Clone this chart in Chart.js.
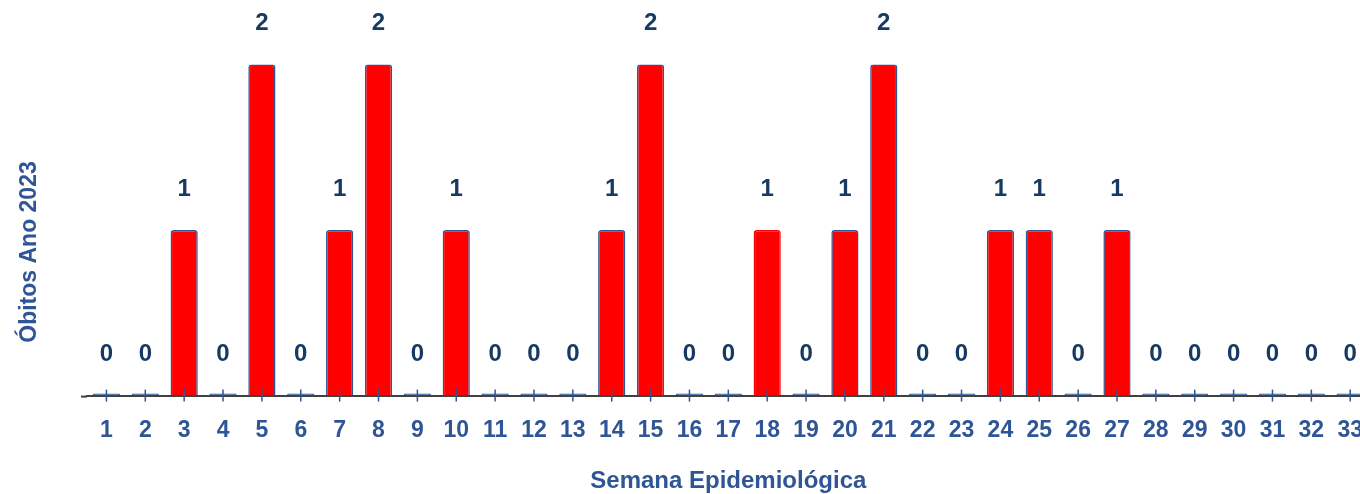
<!DOCTYPE html>
<html>
<head>
<meta charset="utf-8">
<script src="https://cdn.jsdelivr.net/npm/chart.js@4/dist/chart.umd.min.js"></script>
<style>
  html, body { margin: 0; padding: 0; background: #fff; overflow: hidden; }
  /* a última semana fica parcialmente cortada, como no original */
  #wrap { width: 1360px; height: 494px; overflow: hidden; }
</style>
</head>
<body>
<div id="wrap"><canvas id="obitosChart" width="1384" height="494"></canvas></div>
<script>
// Semanas epidemiológicas e óbitos
const semanas = ['1','2','3','4','5','6','7','8','9','10','11','12','13','14','15','16','17',
                 '18','19','20','21','22','23','24','25','26','27','28','29','30','31','32','33'];
const obitos = [0,0,1,0,2,0,1,2,0,1,0,0,0,1,2,0,0,1,0,1,2,0,0,1,1,0,1,0,0,0,0,0,0];
const yMax = 2.39;

const vermelho = '#ff0000';
const azul = '#2f5597';
const azulEscuro = '#163a63';
const fonte = "'Liberation Sans', Arial, sans-serif";

// Título do eixo Y, rótulos de valor e marcas do eixo X
const rotulosPlugin = {
    id: 'rotulos',
    afterDatasetsDraw(chart) {
        const ctx = chart.ctx;
        const xScale = chart.scales.x;
        const yScale = chart.scales.y;
        const area = chart.chartArea;

        ctx.save();
        // pequeno prolongamento do eixo à esquerda
        ctx.strokeStyle = '#404040';
        ctx.lineWidth = 2;
        ctx.beginPath();
        ctx.moveTo(area.left - 6, area.bottom + 1);
        ctx.lineTo(area.left, area.bottom + 1);
        ctx.stroke();

        ctx.strokeStyle = azul;
        ctx.lineWidth = 1.5;
        semanas.forEach((s, i) => {
            const x = xScale.getPixelForValue(i);
            ctx.beginPath();
            ctx.moveTo(x, area.bottom - 6);
            ctx.lineTo(x, area.bottom + 6);
            ctx.stroke();
        });

        ctx.fillStyle = azulEscuro;
        ctx.font = 'bold 24px ' + fonte;
        ctx.textAlign = 'center';
        ctx.textBaseline = 'middle';
        chart.getDatasetMeta(0).data.forEach((bar, i) => {
            const topo = yScale.getPixelForValue(obitos[i]);
            ctx.fillText(String(obitos[i]), bar.x, topo - 41);
        });

        ctx.fillStyle = azul;
        ctx.font = 'bold 23px ' + fonte;
        ctx.translate(30, 252);
        ctx.rotate(-Math.PI / 2);
        ctx.fillText('Óbitos Ano 2023', 0, 0);
        ctx.restore();
    }
};

const ctx = document.getElementById('obitosChart').getContext('2d');
const obitosChart = new Chart(ctx, {
    type: 'bar',
    data: {
        labels: semanas,
        datasets: [{
            data: obitos,
            backgroundColor: c => c.raw === 0 ? azul : vermelho,
            borderColor: c => c.dataIndex === 17 ? vermelho : azul,
            borderWidth: 1.5,
            borderRadius: 3,
            borderSkipped: 'bottom',
            minBarLength: 2,
            barPercentage: 0.7,
            categoryPercentage: 1
        }]
    },
    options: {
        responsive: false,
        animation: false,
        layout: { padding: { left: 87, right: 0, top: 0, bottom: -2 } },
        plugins: {
            legend: { display: false },
            tooltip: { enabled: false }
        },
        scales: {
            x: {
                grid: { display: false, drawTicks: false },
                border: { display: true, color: '#404040', width: 2 },
                ticks: {
                    color: azul,
                    font: { family: fonte, size: 23, weight: 'bold' },
                    padding: 21,
                    maxRotation: 0,
                    autoSkip: false
                },
                title: {
                    display: true,
                    text: 'Semana Epidemiológica',
                    color: azul,
                    font: { family: fonte, size: 24, weight: 'bold' },
                    padding: { top: 2, bottom: 0 }
                }
            },
            y: {
                display: false,
                min: 0,
                max: yMax
            }
        }
    },
    plugins: [rotulosPlugin]
});
</script>
</body>
</html>
